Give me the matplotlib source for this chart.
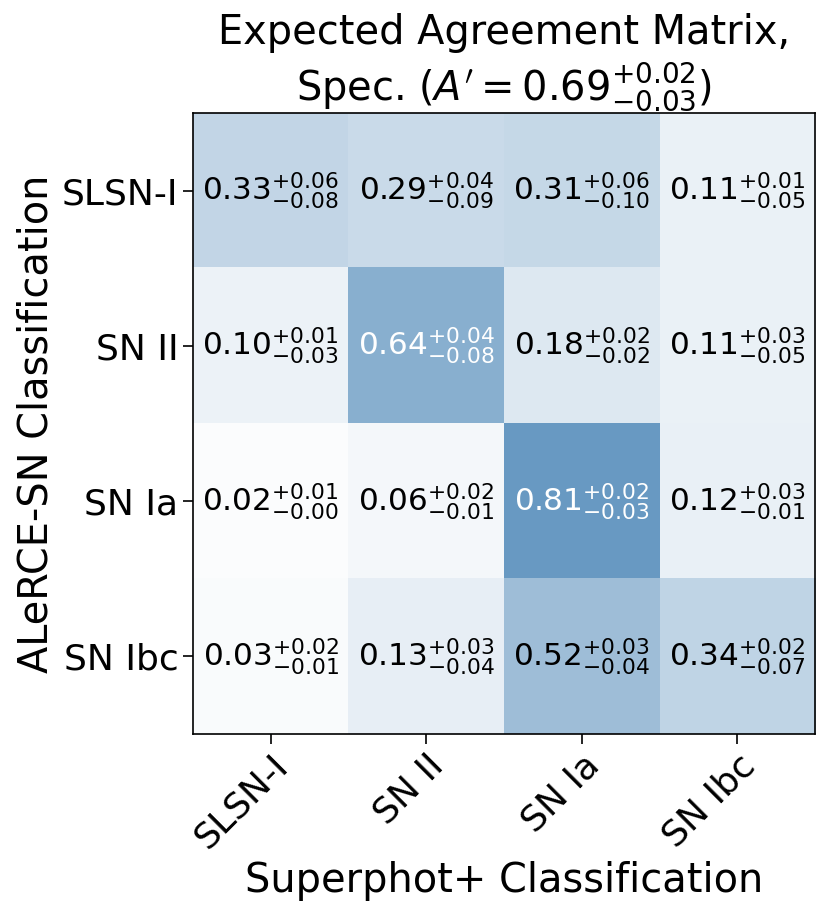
import numpy as np
import matplotlib
matplotlib.use("Agg")
import matplotlib.pyplot as plt
from matplotlib.colors import LinearSegmentedColormap

# --- datos ---
etiquetas = ["SLSN-I", "SN II", "SN Ia", "SN Ibc"]
valores = np.array([
    [0.33, 0.29, 0.31, 0.11],
    [0.10, 0.64, 0.18, 0.11],
    [0.02, 0.06, 0.81, 0.12],
    [0.03, 0.13, 0.52, 0.34],
])
err_sup = np.array([
    [0.06, 0.04, 0.06, 0.01],
    [0.01, 0.04, 0.02, 0.03],
    [0.01, 0.02, 0.02, 0.03],
    [0.02, 0.03, 0.03, 0.02],
])
err_inf = np.array([
    [0.08, 0.09, 0.10, 0.05],
    [0.03, 0.08, 0.02, 0.05],
    [0.00, 0.01, 0.03, 0.01],
    [0.01, 0.04, 0.04, 0.07],
])
acuerdo, acuerdo_sup, acuerdo_inf = 0.69, 0.02, 0.03

# --- figura ---
fig = plt.figure(figsize=(8.31, 9.19), dpi=100)
ax = fig.add_axes([193 / 831, 1 - 734 / 919, 622 / 831, 621 / 919])

cmap = LinearSegmentedColormap.from_list("blanco_azul", ["white", "steelblue"])
ax.imshow(valores, cmap=cmap, vmin=0, vmax=1, aspect="auto")

for i in range(len(etiquetas)):
    for j in range(len(etiquetas)):
        v = valores[i, j]
        col = "white" if v > 0.6 else "black"
        txt = rf"${v:.2f}^{{+{err_sup[i, j]:.2f}}}_{{-{err_inf[i, j]:.2f}}}$"
        ax.text(j, i, txt, ha="center", va="center", color=col, fontsize=22.4)

ax.set_xticks(range(len(etiquetas)))
ax.set_yticks(range(len(etiquetas)))
ax.set_xticklabels(etiquetas, rotation=45, ha="right", rotation_mode="anchor", fontsize=26)
ax.set_yticklabels(etiquetas, fontsize=26)
ax.tick_params(length=7, width=1.2)
for s in ax.spines.values():
    s.set_linewidth(1.2)

ax.set_xlabel("Superphot+ Classification", fontsize=28.7)
ax.set_ylabel("ALeRCE-SN Classification", fontsize=28.7)
ax.set_title("Expected Agreement Matrix,\n"
             rf"Spec. ($A'={acuerdo:.2f}^{{+{acuerdo_sup:.2f}}}_{{-{acuerdo_inf:.2f}}}$)",
             fontsize=28.7)

fig.savefig("out.png", dpi=100)
